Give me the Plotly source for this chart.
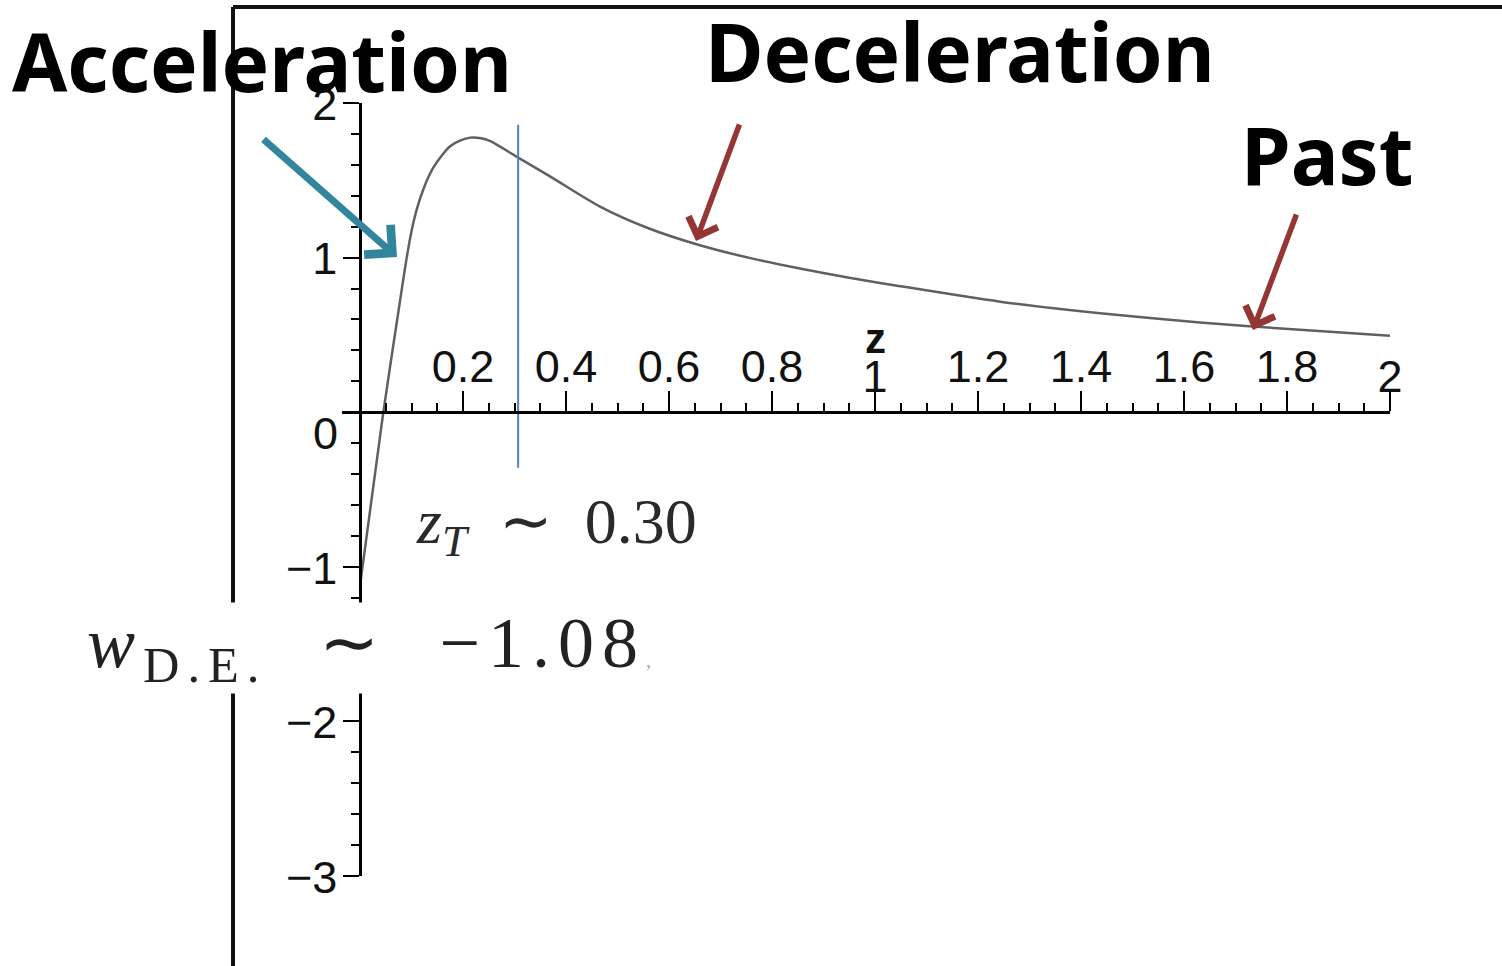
import plotly.graph_objects as go

# ---------------- data ----------------
z_vals = [0.0, 0.044, 0.0777, 0.0907, 0.10, 0.11, 0.125, 0.142, 0.16, 0.175, 0.195,
          0.214, 0.235, 0.252, 0.307, 0.369, 0.466, 0.56, 0.66, 0.76, 0.854, 0.95,
          1.049, 1.243, 1.437, 1.631, 1.825, 2.0]
curve_vals = [-1.12, -0.03, 0.72, 1.0, 1.17, 1.31, 1.46, 1.58, 1.665, 1.72, 1.758,
              1.776, 1.772, 1.755, 1.647, 1.525, 1.33, 1.19, 1.08, 0.995, 0.93, 0.87,
              0.815, 0.715, 0.64, 0.58, 0.533, 0.495]

z_transition = 0.307
transition_line_y = [1.86, -0.36]

x_tick_vals = [0.2, 0.4, 0.6, 0.8, 1.0, 1.2, 1.4, 1.6, 1.8, 2.0]
x_tick_text = ["0.2", "0.4", "0.6", "0.8", "1", "1.2", "1.4", "1.6", "1.8", "2"]
y_tick_vals = [-3, -2, -1, 0, 1, 2]
y_tick_text = ["\u22123", "\u22122", "\u22121", "0", "1", "2"]

# ---------------- geometry ----------------
W, H = 1502, 966
XMIN, XMAX = -0.035, 2.0
YMIN, YMAX = -3.0, 2.0


def px(x):
    return x / W


def py(y):
    return 1 - y / H


xdom = [px(342), px(1390)]
ydom = [py(876), py(103)]
yaxis_pos = xdom[0] + (0 - XMIN) / (XMAX - XMIN) * (xdom[1] - xdom[0])
xaxis_pos = ydom[0] + (0 - YMIN) / (YMAX - YMIN) * (ydom[1] - ydom[0])

TICKFONT = dict(family="Liberation Sans, Arial, sans-serif", size=45, color="#111")
BIG = dict(family="Noto Sans, Open Sans, sans-serif", size=80, color="black")
MATH = "Liberation Serif, Times New Roman, serif"

# whole-number labels sit a little lower on the horizontal axis, as in the original
x_tick_text_axis = [
    t if "." in t else "<sub><span style='font-size:45px'>" + t + "</span></sub>"
    for t in x_tick_text
]
# the "0" of the vertical axis is drawn a little below its tick, as in the original
y_tick_text_axis = [t if v != 0 else "" for v, t in zip(y_tick_vals, y_tick_text)]
zero_label = y_tick_text[y_tick_vals.index(0)]

fig = go.Figure()

fig.add_trace(go.Scatter(
    x=z_vals, y=curve_vals, mode="lines",
    line=dict(color="#606060", width=2.5, shape="spline", smoothing=0.8),
    hoverinfo="skip"))

fig.add_trace(go.Scatter(
    x=[z_transition, z_transition], y=transition_line_y, mode="lines",
    line=dict(color="#4f81bd", width=2), hoverinfo="skip"))

fig.update_layout(
    width=W, height=H, margin=dict(l=0, r=0, t=0, b=0, autoexpand=False),
    paper_bgcolor="white", plot_bgcolor="white", showlegend=False,
    xaxis=dict(
        range=[XMIN, XMAX], domain=xdom, anchor="free", position=xaxis_pos,
        side="top", showgrid=False, zeroline=False,
        showline=True, linecolor="black", linewidth=2.5,
        tickmode="array", tickvals=x_tick_vals, ticktext=x_tick_text_axis,
        ticks="outside", ticklen=20, tickwidth=2, tickcolor="black",
        tickfont=TICKFONT, ticklabelstandoff=-9,
        minor=dict(tickmode="linear", tick0=0, dtick=0.05, ticks="outside",
                   ticklen=8, tickwidth=2, tickcolor="black", showgrid=False),
    ),
    yaxis=dict(
        range=[YMIN, YMAX], domain=ydom, anchor="free", position=yaxis_pos,
        side="left", showgrid=False, zeroline=False,
        showline=True, linecolor="black", linewidth=2.5,
        tickmode="array", tickvals=y_tick_vals, ticktext=y_tick_text_axis,
        ticks="outside", ticklen=16, tickwidth=2, tickcolor="black",
        tickfont=TICKFONT, ticklabelstandoff=-3, ticklabelshift=1,
        minor=dict(tickmode="linear", tick0=0, dtick=0.2, ticks="outside",
                   ticklen=8, tickwidth=2, tickcolor="black", showgrid=False),
    ),
)

fig.add_annotation(x=0, y=0, xref="x", yref="y", text=zero_label, showarrow=False,
                   font=TICKFONT, xanchor="right", yanchor="middle",
                   xshift=-20, yshift=-21)

# frame lines
fig.add_shape(type="line", xref="paper", yref="paper",
              x0=px(233), x1=px(233), y0=0, y1=py(7),
              line=dict(color="#111", width=4))
fig.add_shape(type="line", xref="paper", yref="paper",
              x0=px(233), x1=1, y0=py(7), y1=py(7),
              line=dict(color="#111", width=4))

# axis label z
fig.add_annotation(x=1.0, xref="x", y=py(338), yref="paper", text="<b>z</b>",
                   showarrow=False, font=dict(family="Liberation Sans, Arial", size=42,
                                              color="#111"),
                   xanchor="center", yanchor="middle")

# big labels
fig.add_annotation(x=px(262), y=py(60), xref="paper", yref="paper",
                   text="<b>Acceleration</b>", showarrow=False, font=BIG,
                   xanchor="center", yanchor="middle")
fig.add_annotation(x=px(960), y=py(50), xref="paper", yref="paper",
                   text="<b>Deceleration</b>", showarrow=False, font=BIG,
                   xanchor="center", yanchor="middle")
fig.add_annotation(x=px(1327), y=py(153), xref="paper", yref="paper",
                   text="<b>Past</b>", showarrow=False, font=BIG,
                   xanchor="center", yanchor="middle")

# math labels
NB = "\u00a0"
fig.add_annotation(x=px(414), y=py(526), xref="paper", yref="paper",
                   text="<i>z</i><sub><i>T</i></sub>" + NB * 2 + "\u223c" + NB * 2 + "0.30",
                   showarrow=False,
                   font=dict(family=MATH, size=64, color="#2a2a2a"),
                   xanchor="left", yanchor="middle")
fig.add_annotation(x=px(86), y=py(648), xref="paper", yref="paper",
                   text="<span style='letter-spacing:8px'><i>w</i>"
                        "<sub>D.E.</sub>" + NB * 2 + "\u223c" + NB * 2 + "\u22121.08</span>"
                        "<span style='font-size:20px;color:#aaa'>,</span>",
                   showarrow=False, bgcolor="white", borderpad=0,
                   font=dict(family=MATH, size=72, color="#222"),
                   xanchor="left", yanchor="middle")

# arrows
def arrow(tail, tip, color, width):
    fig.add_annotation(x=px(tip[0]), y=py(tip[1]), xref="paper", yref="paper",
                       ax=tail[0] - tip[0], ay=tail[1] - tip[1], text="",
                       showarrow=True, arrowhead=4, arrowsize=1.1,
                       arrowwidth=width, arrowcolor=color, standoff=0)


arrow((262, 138), (397, 257), "#31859c", 7)
arrow((740, 123), (696, 241), "#943634", 5.5)
arrow((1297, 213), (1253, 330), "#943634", 5.5)

fig.write_html("out.html")
